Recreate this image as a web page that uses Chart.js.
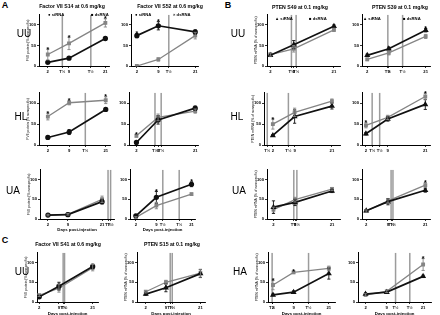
<!DOCTYPE html>
<html><head><meta charset="utf-8">
<script src="https://cdn.jsdelivr.net/npm/chart.js@4.4.1/dist/chart.umd.min.js"></script>
<style>
html,body{margin:0;padding:0;background:#fff;}
body{width:440px;height:315px;position:relative;overflow:hidden;font-family:'Liberation Sans',Arial,sans-serif;color:#000;}
canvas{position:absolute;}
.t{position:absolute;white-space:nowrap;transform:translate(-50%,-50%);line-height:1;}
.ttl{font-weight:bold;font-size:5.2px;}
.row{font-size:10px;}
.let{font-weight:bold;font-size:9px;}
.leg{font-weight:bold;font-size:4.2px;transform:translate(0,-50%);}
</style></head><body>
<script>
// ---------- DATA ----------
const days = [2, 9, 21];
const yTickVals = [0, 50, 100];

// A – Factor VII S14 / S52, B – PTEN S49 / S39 ; rows UU, HL, UA
const a1uuSi = [9, 19, 67],   a1uuSiErr = [2, 2, 3],   a1uuDs = [28, 55, 105], a1uuDsErr = [13, 15, 10];
const a1uuHalf = [6.8, 16.2], a1uuDsStar = [1, 1, 1];
const a2uuSi = [74, 98, 83],  a2uuSiErr = [5, 10, 5],  a2uuDs = [0, 16, 74],   a2uuDsErr = [2, 4, 8];
const a2uuHalf = [12.4],      a2uuSiStar = [1, 1, 0];
const b1uuSi = [26, 52, 97],  b1uuSiErr = [3, 10, 3],  b1uuDs = [28, 42, 88],  b1uuDsErr = [4, 8, 4];
const b1uuHalf = [8.3, 9.7];
const b2uuSi = [26, 42, 87],  b2uuSiErr = [3, 4, 4],   b2uuDs = [16, 32, 72],  b2uuDsErr = [3, 5, 5];
const b2uuHalf = [8.7, 13.5], b2uuSiStar = [0, 0, 1];

const a1hlSi = [18, 31, 85],  a1hlSiErr = [3, 6, 3],   a1hlDs = [68, 101, 107], a1hlDsErr = [8, 5, 8];
const a1hlHalf = [14.3],      a1hlDsStar = [1, 1, 1];
const a2hlSi = [6, 60, 88],   a2hlSiErr = [2, 10, 5],  a2hlDs = [22, 66, 81],  a2hlDsErr = [3, 8, 5];
const a2hlHalf = [8.0, 10.0], a2hlDsStar = [1, 0, 0];
const b1hlSi = [23, 68, 93],  b1hlSiErr = [2, 16, 7],  b1hlDs = [50, 78, 105], b1hlDsErr = [12, 10, 5];
const b1hlHalf = [0.2, 7.0],  b1hlDsStar = [1, 0, 0];
const b2hlSi = [27, 62, 97],  b2hlSiErr = [3, 5, 12],  b2hlDs = [47, 66, 116], b2hlDsErr = [6, 5, 8];
const b2hlHalf = [4.0, 6.4],  b2hlDsStar = [1, 0, 1];

const a1uaSi = [10, 11, 44],  a1uaSiErr = [2, 2, 6],   a1uaDs = [10, 12, 50],  a1uaDsErr = [2, 2, 8];
const a1uaHalf = [23.1, 24.0];
const a2uaSi = [8, 55, 88],   a2uaSiErr = [3, 15, 6],  a2uaDs = [4, 34, 63],   a2uaDsErr = [2, 8, 3];
const a2uaHalf = [11.2, 16.8], a2uaSiStar = [0, 1, 1];
const b1uaSi = [30, 42, 71],  b1uaSiErr = [16, 8, 4],  b1uaDs = [24, 49, 76],  b1uaDsErr = [6, 6, 4];
const b1uaHalf = [8.6, 9.6];
const b2uaSi = [21, 44, 73],  b2uaSiErr = [3, 8, 5],   b2uaDs = [20, 46, 86],  b2uaDsErr = [3, 5, 6];
const b2uaHalf = [10.0, 10.6], b2uaDsStar = [0, 0, 1];

// C – Factor VII S41 / PTEN S15 (UU), PTEN (HA)
const c1Si = [13, 40, 90],    c1SiErr = [3, 10, 6],    c1Ds = [17, 35, 87],    c1DsErr = [3, 10, 8];
const c1Half = [10.5, 11.0];
const c2Si = [20, 36, 72],    c2SiErr = [3, 10, 10],   c2Ds = [26, 50, 73],    c2DsErr = [3, 5, 10];
const c2Half = [10.5, 11.2];
const c3Si = [18, 25, 72],    c3SiErr = [2, 3, 14],    c3Ds = [43, 75, 85],    c3DsErr = [12, 3, 6];
const c3Half = [1.7, 14.1],   c3DsStar = [1, 1, 0];
const c4Si = [20, 25, 65],    c4SiErr = [3, 3, 3],     c4Ds = [18, 27, 95],    c4DsErr = [3, 3, 15];
const c4Half = [11.9, 16.6],  c4DsStar = [0, 0, 1];

const FVII_T = 'FVII protein (% nonspecific)';
const PTEN_T = 'PTEN mRNA (% of nonspecific)';
const X_T = 'Days post-injection';

// ---------- LAYOUT (plot area geometry) ----------
const panels = [
 {si:a1uuSi,siE:a1uuSiErr,ds:a1uuDs,dsE:a1uuDsErr,half:a1uuHalf,dsStar:a1uuDsStar,L:39,R:111,T:14,H:52,xmin:-0.9,xmax:22.3,yt:FVII_T,mk:'circle'},
 {si:a2uuSi,siE:a2uuSiErr,ds:a2uuDs,dsE:a2uuDsErr,half:a2uuHalf,siStar:a2uuSiStar,L:131,R:200,T:14,H:52,xmin:0.1,xmax:22,mk:'circle'},
 {si:b1uuSi,siE:b1uuSiErr,ds:b1uuDs,dsE:b1uuDsErr,half:b1uuHalf,L:267,R:342,T:14,H:52,xmin:1.0,xmax:22.9,yt:PTEN_T,mk:'triangle'},
 {si:b2uuSi,siE:b2uuSiErr,ds:b2uuDs,dsE:b2uuDsErr,half:b2uuHalf,siStar:b2uuSiStar,L:362,R:432,T:14,H:52,xmin:0.3,xmax:22.5,mk:'triangle'},

 {si:a1hlSi,siE:a1hlSiErr,ds:a1hlDs,dsE:a1hlDsErr,half:a1hlHalf,dsStar:a1hlDsStar,L:39,R:112,T:92,H:53,xmin:-0.9,xmax:22.5,yt:FVII_T,mk:'circle'},
 {si:a2hlSi,siE:a2hlSiErr,ds:a2hlDs,dsE:a2hlDsErr,half:a2hlHalf,dsStar:a2hlDsStar,L:129,R:200,T:92,H:53,xmin:-0.4,xmax:22,mk:'circle'},
 {si:b1hlSi,siE:b1hlSiErr,ds:b1hlDs,dsE:b1hlDsErr,half:b1hlHalf,dsStar:b1hlDsStar,L:264,R:342,T:92,H:53,xmin:-0.85,xmax:23.7,yt:PTEN_T,mk:'triangle'},
 {si:b2hlSi,siE:b2hlSiErr,ds:b2hlDs,dsE:b2hlDsErr,half:b2hlHalf,dsStar:b2hlDsStar,L:362,R:432,T:92,H:53,xmin:0.75,xmax:22.6,mk:'triangle'},

 {si:a1uaSi,siE:a1uaSiErr,ds:a1uaDs,dsE:a1uaDsErr,half:a1uaHalf,L:40,R:116,T:169,H:50,xmin:-0.8,xmax:25.3,yt:FVII_T,xt:X_T,xh:13,mk:'circle'},
 {si:a2uaSi,siE:a2uaSiErr,ds:a2uaDs,dsE:a2uaDsErr,half:a2uaHalf,siStar:a2uaSiStar,L:130,R:197,T:169,H:50,xmin:0,xmax:22.3,xt:X_T,xh:13,mk:'circle'},
 {si:b1uaSi,siE:b1uaSiErr,ds:b1uaDs,dsE:b1uaDsErr,half:b1uaHalf,L:267,R:342,T:169,H:50,xmin:-0.1,xmax:23.7,yt:PTEN_T,mk:'triangle'},
 {si:b2uaSi,siE:b2uaSiErr,ds:b2uaDs,dsE:b2uaDsErr,half:b2uaHalf,dsStar:b2uaDsStar,L:362,R:432,T:169,H:50,xmin:0.65,xmax:22.6,mk:'triangle'},

 {si:c1Si,siE:c1SiErr,ds:c1Ds,dsE:c1DsErr,half:c1Half,L:37,R:100,T:252,H:50,xmin:1.2,xmax:23,yt:FVII_T,xt:X_T,xh:14,mk:'circle'},
 {si:c2Si,siE:c2SiErr,ds:c2Ds,dsE:c2DsErr,half:c2Half,L:137,R:207,T:252,H:50,xmin:-1.05,xmax:22.7,yt:PTEN_T,xt:X_T,xh:14,mk:'triangle'},
 {si:c3Si,siE:c3SiErr,ds:c3Ds,dsE:c3DsErr,half:c3Half,dsStar:c3DsStar,L:268,R:337,T:252,H:50,xmin:0.3,xmax:23.2,yt:PTEN_T,xt:X_T,xh:14,mk:'triangle'},
 {si:c4Si,siE:c4SiErr,ds:c4Ds,dsE:c4DsErr,half:c4Half,dsStar:c4DsStar,L:358,R:433,T:252,H:50,xmin:-0.5,xmax:23.7,xt:X_T,xh:14,mk:'triangle'}
];

const BLACK = '#111111', GRAY = '#858585', VLINE = '#9c9c9c';
Chart.defaults.font.family = "'Liberation Sans', Arial, sans-serif";
Chart.defaults.color = '#000';

const errPlugin = {
  id: 'errbars',
  afterDatasetsDraw(chart) {
    const ctx = chart.ctx, xs = chart.scales.x, ys = chart.scales.y;
    chart.data.datasets.forEach(ds => {
      if (!ds.errs) return;
      ctx.save();
      ctx.strokeStyle = ds.borderColor; ctx.lineWidth = 0.9;
      ds.data.forEach((p, j) => {
        const px = xs.getPixelForValue(p.x);
        const hi = ys.getPixelForValue(p.y + ds.errs[j]);
        const lo = ys.getPixelForValue(Math.max(0, p.y - ds.errs[j]));
        ctx.beginPath();
        ctx.moveTo(px, hi); ctx.lineTo(px, lo);
        ctx.moveTo(px - 1.6, hi); ctx.lineTo(px + 1.6, hi);
        ctx.moveTo(px - 1.6, lo); ctx.lineTo(px + 1.6, lo);
        ctx.stroke();
        if (ds.stars && ds.stars[j]) {
          ctx.fillStyle = '#000'; ctx.font = "bold 7px 'Liberation Sans', Arial";
          ctx.textAlign = 'center'; ctx.textBaseline = 'alphabetic';
          ctx.fillText('*', px, hi + 2.5);
        }
      });
      ctx.restore();
    });
  }
};

panels.forEach(p => {
  const yw = 13, rp = 4, tp = 5, xh = p.xh || 9;
  const cv = document.createElement('canvas');
  const W = yw + (p.R - p.L) + rp, Hh = tp + p.H + xh;
  cv.width = W; cv.height = Hh;
  cv.style.left = (p.L - yw) + 'px'; cv.style.top = (p.T - tp) + 'px';
  cv.style.width = W + 'px'; cv.style.height = Hh + 'px';
  document.body.appendChild(cv);
  const pts = arr => days.map((d, i) => ({x: d, y: arr[i]}));
  const datasets = [
    {data: pts(p.si), errs: p.siE, stars: p.siStar, borderColor: BLACK, backgroundColor: BLACK, borderWidth: 1.7,
     pointRadius: 1.8, pointStyle: p.mk, pointBackgroundColor: BLACK, pointBorderColor: BLACK, order: 1},
    {data: pts(p.ds), errs: p.dsE, stars: p.dsStar, borderColor: GRAY, backgroundColor: GRAY, borderWidth: 1.3,
     pointRadius: 1.8, pointStyle: 'rect', pointBackgroundColor: GRAY, pointBorderColor: GRAY, order: 2}
  ];
  p.half.forEach(v => datasets.push({data: [{x: v, y: 0}, {x: v, y: 125}], borderColor: VLINE,
     borderWidth: 1.5, pointRadius: 0, order: 10}));
  new Chart(cv, {
    type: 'line',
    data: {datasets},
    options: {
      responsive: false, animation: false, devicePixelRatio: 1,
      layout: {padding: {left: 0, right: rp, top: tp, bottom: 0}},
      plugins: {legend: {display: false}, tooltip: {enabled: false}},
      scales: {
        x: {
          type: 'linear', min: p.xmin, max: p.xmax,
          afterBuildTicks: s => { s.ticks = days.concat(p.half).sort((a, b) => a - b).map(v => ({value: v})); },
          afterFit: s => { s.height = xh; },
          ticks: {autoSkip: false, maxRotation: 0, minRotation: 0, padding: 1,
                  font: {size: 4.2, weight: 'bold'}, color: '#000',
                  callback: v => days.includes(v) ? String(v) : 'T\u00BD'},
          grid: {display: true, drawOnChartArea: false, tickLength: 2, color: '#000', lineWidth: 0.8},
          border: {color: '#000', width: 1},
          title: {display: !!p.xt, text: p.xt || '', font: {size: 4.3, weight: 'bold'}, padding: {top: 1, bottom: 0}, color: '#000'}
        },
        y: {
          min: 0, max: 125,
          afterBuildTicks: s => { s.ticks = yTickVals.map(v => ({value: v})); },
          afterFit: s => { s.width = yw; },
          ticks: {padding: 1, font: {size: 4.2, weight: 'bold'}, color: '#000'},
          grid: {display: true, drawOnChartArea: false, tickLength: 2, color: '#000', lineWidth: 0.8},
          border: {color: '#000', width: 1},
          title: {display: !!p.yt, text: p.yt || '', font: {size: 3.4}, padding: 0, color: '#000'}
        }
      }
    },
    plugins: [errPlugin]
  });
});

// ---------- TEXT ----------
const texts = [
  ['let', 'A', 5, 5], ['let', 'B', 228, 5], ['let', 'C', 5, 240],
  ['ttl', 'Factor VII S14 at 0.6 mg/kg', 72, 7], ['ttl', 'Factor VII S52 at 0.6 mg/kg', 170, 7],
  ['ttl', 'PTEN S49 at 0.1 mg/kg', 300, 8], ['ttl', 'PTEN S39 at 0.1 mg/kg', 400, 8],
  ['ttl', 'Factor VII S41 at 0.6 mg/kg', 68, 245], ['ttl', 'PTEN S15 at 0.1 mg/kg', 172, 245],
  ['row', 'UU', 24, 34], ['row', 'UU', 238, 34], ['row', 'HL', 21, 117], ['row', 'HL', 237, 117],
  ['row', 'UA', 13, 191], ['row', 'UA', 239, 191], ['row', 'UU', 22, 272], ['row', 'HA', 240, 272]
];
texts.forEach(([c, s, x, y]) => {
  const d = document.createElement('div'); d.className = 't ' + c; d.textContent = s;
  d.style.left = x + 'px'; d.style.top = y + 'px'; document.body.appendChild(d);
});
const legends = [
  ['\u25CF siRNA', 48, 15, BLACK], ['\u25A0 dsRNA', 91, 15, GRAY],
  ['\u25CF siRNA', 135, 15, BLACK], ['\u00D7 dsRNA', 173, 15, GRAY],
  ['\u25B2 siRNA', 275, 19, BLACK], ['\u25A0 dsRNA', 309, 19, GRAY],
  ['\u25B2 siRNA', 363, 19, BLACK], ['\u25A0 dsRNA', 403, 19, GRAY]
];
legends.forEach(([s, x, y, col]) => {
  const d = document.createElement('div'); d.className = 't leg'; d.textContent = s;
  d.style.left = x + 'px'; d.style.top = y + 'px'; document.body.appendChild(d);
});
</script>
</body></html>
